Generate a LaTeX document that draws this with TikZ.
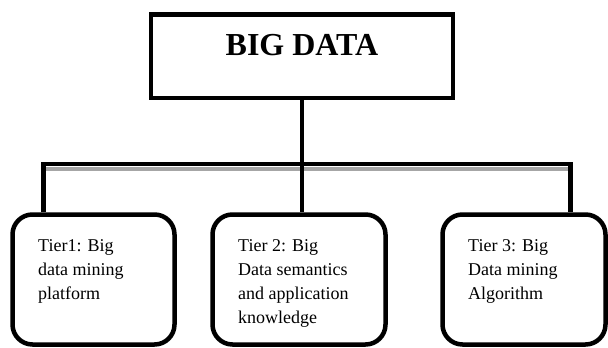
\documentclass[tikz,border=0pt]{standalone}
\usepackage{fontspec}
\setmainfont{Liberation Serif}
\begin{document}
\begin{tikzpicture}[x=1pt,y=-1pt,
  conn/.style={line width=4.5pt},
  tierbox/.style={draw,line width=4.5pt,rounded corners=20pt,minimum width=162pt,minimum height=130pt,inner sep=0pt},
  tiertext/.style={anchor=base west,align=left,inner sep=0pt,font=\fontsize{18}{24}\selectfont}]
\useasboundingbox (0,0) rectangle (608,348);
% top box
\node[draw,line width=4.5pt,minimum width=302pt,minimum height=83.5pt,inner sep=0pt] (T) at (302,56) {};
\node[anchor=base,inner sep=0pt,font=\fontsize{32}{38}\selectfont\bfseries] (Tt) at (302,55) {BIG DATA};
% tier boxes
\node[tierbox] (A) at (93.5,279.5) {};
\node[tierbox,minimum width=173pt] (B) at (299,279.5) {};
\node[tierbox,minimum width=163pt] (C) at (524,279.5) {};
% text nodes: base anchor is the baseline of the last line
\node[tiertext] (At) at (38,299) {Tier1: Big\\data mining\\platform};
\node[tiertext] (Bt) at (238,323) {Tier 2: Big\\Data semantics\\and application\\knowledge};
\node[tiertext] (Ct) at (468,299) {Tier 3: Big\\Data mining\\Algorithm};
% connectors
\coordinate (jl) at (43.5,164);
\coordinate (jr) at (570.5,164);
\draw[gray!70,line width=4pt] (46,169) -- (568,169);
\draw[conn] (A.north -| jl) -- (jl) -- (jr) -- (C.north -| jr);
\draw[conn] (T.south) -- (T.south |- B.north);
\end{tikzpicture}
\end{document}
